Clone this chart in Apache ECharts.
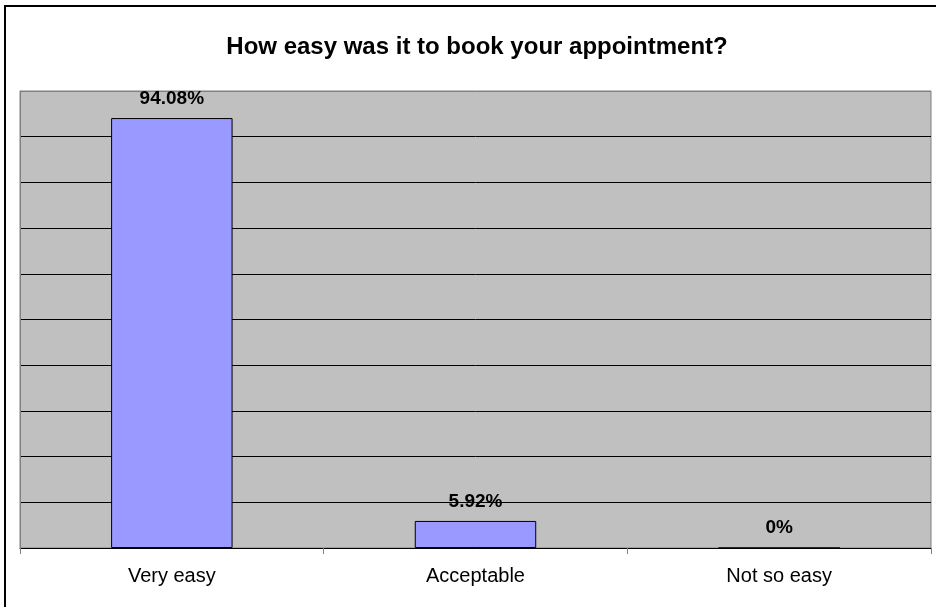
<!DOCTYPE html>
<html>
<head>
<meta charset="utf-8">
<script src="https://cdn.jsdelivr.net/npm/echarts@6/dist/echarts.min.js"></script>
<style>
html,body{margin:0;padding:0;background:#fff;}
#chart{width:936px;height:607px;}
</style>
</head>
<body>
<div id="chart"></div>
<script>
const titleText = 'How easy was it to book your appointment?';
const categories = ['Very easy', 'Acceptable', 'Not so easy'];
const values = [94.08, 5.92, 0];
const valueLabels = ['94.08%', '5.92%', '0%'];

const chart = echarts.init(document.getElementById('chart'));
const gridColors = [];
for (let i = 0; i < 10; i++) gridColors.push('#000000');
gridColors.push('#808080');

chart.setOption({
  animation: false,
  textStyle: { fontFamily: 'Liberation Sans, Arial, sans-serif' },
  title: {
    text: titleText,
    left: 472,
    textAlign: 'center',
    top: 30,
    textStyle: { fontSize: 24, fontWeight: 'bold', color: '#000', fontFamily: 'Liberation Sans, Arial, sans-serif' }
  },
  graphic: [{
    type: 'rect',
    silent: true,
    shape: { x: 5, y: 6, width: 960, height: 640 },
    style: { fill: 'none', stroke: '#000', lineWidth: 2 }
  }],
  grid: {
    left: 20, right: 5, top: 91, bottom: 59,
    show: true,
    backgroundColor: '#c0c0c0',
    borderColor: '#808080',
    borderWidth: 1
  },
  xAxis: {
    type: 'category',
    data: categories,
    axisLine: { show: true, lineStyle: { color: '#000', width: 1 } },
    axisTick: { show: true, length: 6, lineStyle: { color: '#808080' } },
    axisLabel: { fontSize: 20, color: '#000', margin: 18, fontFamily: 'Liberation Sans, Arial, sans-serif' }
  },
  yAxis: {
    type: 'value',
    min: 0, max: 100, interval: 10,
    axisLine: { show: true, lineStyle: { color: '#808080' } },
    axisTick: { show: false },
    axisLabel: { show: false },
    splitLine: { show: true, lineStyle: { color: gridColors, width: 1 } }
  },
  series: [{
    type: 'bar',
    data: values,
    barWidth: '40%',
    itemStyle: { color: '#9999ff', borderColor: '#000', borderWidth: 1 },
    label: {
      show: true,
      position: 'top',
      distance: 10,
      fontSize: 19,
      fontWeight: 'bold',
      color: '#000',
      fontFamily: 'Liberation Sans, Arial, sans-serif',
      formatter: p => valueLabels[p.dataIndex]
    }
  }]
});
</script>
</body>
</html>
